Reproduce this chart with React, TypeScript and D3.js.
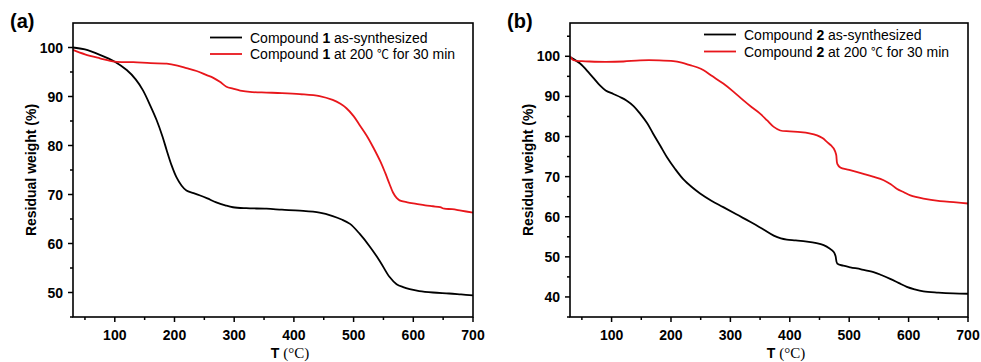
import React from "react";
import * as d3 from "d3";

// ---- Data ----
const xTicks = [100, 200, 300, 400, 500, 600, 700];
const yTicksA = [50, 60, 70, 80, 90, 100];
const yTicksB = [40, 50, 60, 70, 80, 90, 100];

const c1AsT = [30, 50, 75, 100, 120, 135, 147, 160, 170, 180, 187, 195, 203, 212, 220, 232, 243, 255, 270, 285, 298, 320, 354, 380, 410, 443, 465, 480, 494, 510, 527, 544, 560, 572, 583, 594, 610, 633, 660, 680, 700];
const c1AsW = [100, 99.6, 98.5, 97.1, 95.4, 93.5, 91.3, 88.0, 85.2, 81.8, 79.0, 76.0, 73.6, 71.8, 70.8, 70.3, 69.8, 69.2, 68.4, 67.8, 67.4, 67.2, 67.1, 66.9, 66.7, 66.3, 65.6, 64.9, 64.0, 62.0, 59.4, 56.4, 53.2, 51.7, 51.1, 50.7, 50.3, 50.0, 49.8, 49.6, 49.4];

const c1HeatT = [30, 50, 75, 100, 131, 160, 187, 205, 220, 237, 253, 265, 276, 287, 298, 310, 330, 354, 380, 410, 443, 465, 478, 488, 500, 510, 522, 533, 545, 553, 560, 566, 572, 577, 590, 605, 620, 633, 645, 652, 665, 680, 700];
const c1HeatW = [99.5, 98.6, 97.8, 97.1, 97.0, 96.8, 96.7, 96.3, 95.8, 95.2, 94.4, 93.8, 93.0, 92.0, 91.6, 91.2, 90.9, 90.8, 90.7, 90.5, 90.1, 89.3, 88.5, 87.6, 86.0, 84.2, 82.0, 79.6, 76.7, 74.4, 72.2, 70.4, 69.3, 68.8, 68.4, 68.1, 67.8, 67.6, 67.4, 67.1, 67.0, 66.7, 66.3];

const c2AsT = [30, 47, 63, 80, 90, 103, 115, 125, 137, 148, 160, 170, 182, 193, 207, 221, 235, 249, 268, 288, 310, 334, 355, 373, 385, 395, 410, 429, 445, 457, 467, 474, 477, 480, 490, 502, 520, 541, 555, 569, 583, 597, 610, 625, 650, 675, 700];
const c2AsW = [99.8, 98.2, 95.7, 92.8, 91.5, 90.6, 89.8, 89.0, 87.6, 85.7, 83.3, 80.7, 77.7, 74.9, 71.9, 69.3, 67.4, 65.8, 64.0, 62.4, 60.6, 58.7, 56.9, 55.3, 54.6, 54.3, 54.1, 53.8, 53.4, 52.9, 52.1, 51.2, 50.2, 48.3, 47.8, 47.4, 46.9, 46.2, 45.4, 44.5, 43.5, 42.5, 41.9, 41.4, 41.1, 40.9, 40.8];

const c2HeatT = [30, 36, 50, 63, 90, 120, 148, 180, 204, 218, 232, 245, 255, 270, 288, 305, 322, 336, 350, 362, 373, 384, 400, 418, 433, 446, 455, 463, 470, 474, 478, 480, 485, 500, 524, 540, 558, 570, 580, 592, 603, 625, 653, 680, 700];
const c2HeatW = [100, 99.0, 98.8, 98.7, 98.6, 98.7, 99.0, 99.0, 98.8, 98.4, 97.8, 97.2, 96.5, 95.0, 93.2, 91.2, 89.0, 87.3, 85.7, 84.0, 82.4, 81.5, 81.3, 81.1, 80.8, 80.3, 79.6, 78.6, 77.7, 77.0, 75.5, 73.2, 72.3, 71.7, 70.7, 70.0, 69.1, 68.1, 67.0, 66.1, 65.3, 64.5, 63.9, 63.6, 63.3];

const legendA = ["as-synthesized", "at 200 ℃ for 30 min"];
const colors = ["#000000", "#e8161b"];

type Series = { t: number[]; w: number[] };

function Panel(props: {
  left: number; right: number; top: number; bottom: number;
  yDomain: [number, number]; yTicks: number[];
  series: Series[]; label: string; compound: string;
  legendX: number; legendY: number; legendDy: number;
}) {
  const { left, right, top, bottom, yDomain, yTicks, series, label, compound } = props;
  const x = d3.scaleLinear().domain([30, 700]).range([left, right]);
  const y = d3.scaleLinear().domain(yDomain).range([bottom, top]);
  const xMinor = d3.range(50, 700, 100);
  const yMinor = d3.range(Math.ceil(yDomain[0] / 5) * 5, yDomain[1], 10).filter((v) => yTicks.indexOf(v) < 0);
  const line = d3.line<[number, number]>().x((d) => x(d[0])).y((d) => y(d[1])).curve(d3.curveCatmullRom.alpha(0.5));
  const font = "'Liberation Sans', Arial, sans-serif";
  const cx = (left + right) / 2 + 17;
  const cy = (top + bottom) / 2;
  return (
    <g>
      <text x={left - 63} y={28} fontFamily={font} fontWeight="bold" fontSize={20}>{label}</text>
      <g>
        {series.map((s, i) => (
          <path key={i} d={line(s.t.map((t, j) => [t, s.w[j]] as [number, number])) || ""} fill="none" stroke={colors[i]} strokeWidth={1.8} strokeLinejoin="round" />
        ))}
      </g>
      <rect x={left} y={top} width={right - left} height={bottom - top} fill="none" stroke="#000" strokeWidth={1.6} />
      {xTicks.map((t) => (
        <g key={"x" + t}>
          <line x1={x(t)} x2={x(t)} y1={bottom} y2={bottom + 5} stroke="#000" strokeWidth={1.5} />
          <text x={x(t)} y={bottom + 23} textAnchor="middle" fontFamily={font} fontWeight="bold" fontSize={14}>{t}</text>
        </g>
      ))}
      {xMinor.map((t) => (
        <line key={"xm" + t} x1={x(t)} x2={x(t)} y1={bottom} y2={bottom + 3} stroke="#000" strokeWidth={1.5} />
      ))}
      {yTicks.map((v) => (
        <g key={"y" + v}>
          <line x1={left - 5} x2={left} y1={y(v)} y2={y(v)} stroke="#000" strokeWidth={1.5} />
          <text x={left - 10} y={y(v)} dy="0.36em" textAnchor="end" fontFamily={font} fontWeight="bold" fontSize={14}>{v}</text>
        </g>
      ))}
      {yMinor.map((v) => (
        <line key={"ym" + v} x1={left - 3} x2={left} y1={y(v)} y2={y(v)} stroke="#000" strokeWidth={1.5} />
      ))}
      <text x={cx} y={358} textAnchor="middle" fontSize={14} fontFamily={font}>
        <tspan fontWeight="bold">T </tspan>
        <tspan fontFamily="'Liberation Serif', 'Times New Roman', serif" fontSize={15}>(°C)</tspan>
      </text>
      <text transform={`translate(${left - 37},${cy}) rotate(-90)`} textAnchor="middle" fontFamily={font} fontWeight="bold" fontSize={14}>Residual weight (%)</text>
      {legendA.map((txt, i) => {
        const ly = props.legendY + i * props.legendDy;
        const parts = txt.split("℃");
        return (
          <g key={"l" + i}>
            <line x1={props.legendX} x2={props.legendX + 32} y1={ly} y2={ly} stroke={colors[i]} strokeWidth={1.8} />
            <text x={props.legendX + 40} y={ly} dy="0.36em" fontFamily={font} fontSize={14}>
              Compound <tspan fontWeight="bold">{compound}</tspan> {parts[0]}
              {parts.length > 1 ? <tspan fontFamily="'Noto Sans CJK SC', sans-serif" fontSize={12}>℃</tspan> : null}
              {parts.length > 1 ? parts[1] : null}
            </text>
          </g>
        );
      })}
    </g>
  );
}

export default function App() {
  return (
    <svg width={981} height={362} style={{ position: "absolute", left: 0, top: 0, background: "#fff" }}>
      <rect width={981} height={362} fill="#fff" />
      <Panel left={73} right={473} top={23} bottom={317} yDomain={[45, 105]} yTicks={yTicksA}
        series={[{ t: c1AsT, w: c1AsW }, { t: c1HeatT, w: c1HeatW }]} label="(a)" compound="1"
        legendX={210} legendY={37.5} legendDy={16.5} />
      <Panel left={570} right={968} top={23} bottom={317} yDomain={[35, 108.3]} yTicks={yTicksB}
        series={[{ t: c2AsT, w: c2AsW }, { t: c2HeatT, w: c2HeatW }]} label="(b)" compound="2"
        legendX={704} legendY={34.5} legendDy={17} />
    </svg>
  );
}
